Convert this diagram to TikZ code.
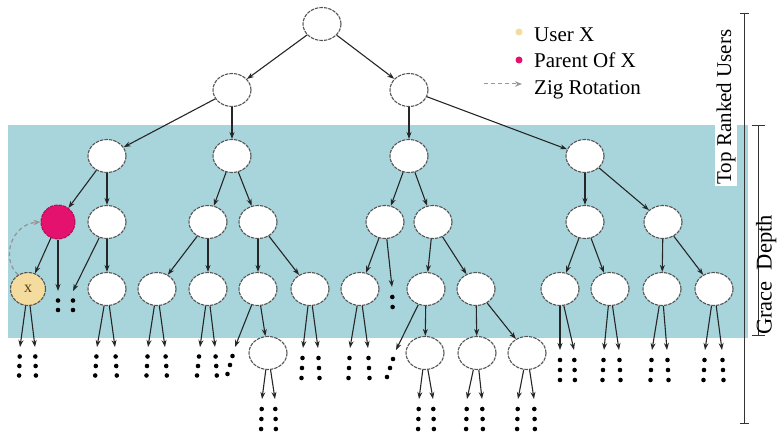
\documentclass[tikz,border=0pt]{standalone}
\usepackage{fontspec}
\setmainfont{Liberation Serif}
\usetikzlibrary{shapes.geometric,arrows.meta,calc}

\definecolor{band}{RGB}{168,213,220}
\definecolor{parentpink}{RGB}{228,18,110}
\definecolor{userbeige}{RGB}{244,220,158}
\definecolor{rimgray}{RGB}{85,85,85}
\definecolor{ziggray}{RGB}{150,150,150}
\definecolor{xbrown}{RGB}{90,60,25}

\tikzset{
  tn/.style={ellipse, draw=rimgray, dash pattern=on 3.5pt off 1pt, line width=1.1pt,
             fill=white, minimum width=38pt, minimum height=33pt, inner sep=0pt},
  pn/.style={circle, draw=parentpink!75!black, dash pattern=on 3.5pt off 1pt, line width=1pt,
             fill=parentpink, minimum size=34pt, inner sep=0pt},
  xn/.style={ellipse, draw=rimgray, dash pattern=on 3.5pt off 1pt, line width=1.1pt,
             fill=userbeige, minimum width=35pt, minimum height=33pt, inner sep=0pt,
             text=xbrown, font=\fontsize{16}{16}\selectfont},
  edge/.style={draw=black!85, line width=1.1pt, -{Stealth[length=7pt,width=5pt]}},
  zig/.style={draw=ziggray, line width=1.3pt, dash pattern=on 4pt off 3pt,
              -{Stealth[length=7pt,width=5.5pt]}},
  ldot/.style={circle, inner sep=0pt, minimum size=7pt},
  lbl/.style={font=\fontsize{21}{24}\selectfont, inner sep=0pt},
  bar/.style={draw=black!80, line width=1pt}
}

% edge from a parent to a free tip, followed by a column of dots
\newcommand\dotchain[5]{%
  \coordinate (#2) at (#3);
  \draw[edge] (#1) -- (#2);
  \foreach \k in {1,...,#5}{\fill[black] ($(#2)+\k*(#4)$) circle[radius=2.3pt];}
}

\begin{document}
\begin{tikzpicture}[x=1pt,y=-1pt]
\useasboundingbox (0,0) rectangle (777,436);

% shaded grace band
\fill[band] (8,125) rectangle (748,338);

% level 0 and 1
\node[tn] (r) at (322,24) {};
\node[tn] (a) at (232,90) {};
\node[tn] (b) at (409,90) {};
% level 2
\node[tn] (a1) at (107,156) {};
\node[tn] (a2) at (232,156) {};
\node[tn] (b1) at (409,156) {};
\node[tn] (b2) at (585,156) {};
% level 3
\node[pn] (p) at (58,222) {};
\node[tn] (a1r) at (107,222) {};
\node[tn] (a2l) at (208,222) {};
\node[tn] (a2r) at (258,222) {};
\node[tn] (b1l) at (385,222) {};
\node[tn] (b1r) at (433,222) {};
\node[tn] (b2l) at (585,222) {};
\node[tn] (b2r) at (663,222) {};
% level 4
\node[xn] (x) at (28,289) {x};
\node[tn] (n4b) at (107,289) {};
\node[tn] (n4c) at (157,289) {};
\node[tn] (n4d) at (208,289) {};
\node[tn] (n4e) at (258,289) {};
\node[tn] (n4f) at (310,289) {};
\node[tn] (n4g) at (360,289) {};
\node[tn] (n4h) at (426,289) {};
\node[tn] (n4i) at (476,289) {};
\node[tn] (n4k) at (560,289) {};
\node[tn] (n4l) at (610,289) {};
\node[tn] (n4m) at (662,289) {};
\node[tn] (n4n) at (714,289) {};
% level 5
\node[tn] (n5a) at (268,353) {};
\node[tn] (n5b) at (425,353) {};
\node[tn] (n5c) at (477,353) {};
\node[tn] (n5d) at (527,353) {};

% tree edges
\foreach \u/\v in {r/a, r/b, a/a1, a/a2, b/b1, b/b2,
                   a1/p, a1/a1r, a2/a2l, a2/a2r, b1/b1l, b1/b1r, b2/b2l, b2/b2r,
                   p/x, a1r/n4b, a2l/n4c, a2l/n4d, a2r/n4e, a2r/n4f, b1l/n4g,
                   b1r/n4h, b1r/n4i, b2l/n4k, b2l/n4l, b2r/n4m, b2r/n4n,
                   n4e/n5a, n4h/n5b, n4i/n5c, n4i/n5d}
  {\draw[edge] (\u) -- (\v);}

% unexpanded subtrees
\dotchain{p}{cp}{58,291}{0,9.5}{2}
\dotchain{a1r}{ca1r}{73,291}{0,9.5}{2}
\dotchain{b1l}{cb1l}{392,287}{0.3,10}{2}

\dotchain{x}{cx1}{20,347}{-0.3,9.5}{3}
\dotchain{x}{cx2}{35,347}{0.3,9.5}{3}
\dotchain{n4b}{cb1}{97,347}{-0.6,9.5}{3}
\dotchain{n4b}{cb2}{115,347}{0.6,9.5}{3}
\dotchain{n4c}{cc1}{148,347}{-0.5,9.5}{3}
\dotchain{n4c}{cc2}{165,347}{0.6,9.5}{3}
\dotchain{n4d}{cd1}{200,347}{-1,9.5}{3}
\dotchain{n4d}{cd2}{215,347}{0.6,9.5}{3}
\dotchain{n4e}{ce1}{235,347}{-2.5,9}{3}
\dotchain{n4f}{cf1}{303,348}{-0.5,10}{3}
\dotchain{n4f}{cf2}{318,348}{0.5,10}{3}
\dotchain{n4g}{cg1}{350,348}{-0.5,10}{3}
\dotchain{n4g}{cg2}{368,348}{0.5,10}{3}
\dotchain{n4h}{ch1}{396,350}{-3,9}{3}
\dotchain{n4k}{ck1}{560,350}{0,10}{3}
\dotchain{n4k}{ck2}{574,350}{0.3,10}{3}
\dotchain{n4l}{cl1}{604,350}{-0.5,10}{3}
\dotchain{n4l}{cl2}{619,350}{0.5,10}{3}
\dotchain{n4m}{cm1}{652,350}{-0.5,10}{3}
\dotchain{n4m}{cm2}{667,350}{0.5,10}{3}
\dotchain{n4n}{cn1}{705,350}{-0.5,10}{3}
\dotchain{n4n}{cn2}{722,350}{0.5,10}{3}

\dotchain{n5a}{c5a1}{262,399}{-0.3,10}{3}
\dotchain{n5a}{c5a2}{275,399}{0.3,10}{3}
\dotchain{n5b}{c5b1}{419,399}{-0.3,10}{3}
\dotchain{n5b}{c5b2}{433,399}{0.3,10}{3}
\dotchain{n5c}{c5c1}{467,399}{-0.3,10}{3}
\dotchain{n5c}{c5c2}{482,399}{0.3,10}{3}
\dotchain{n5d}{c5d1}{518,399}{-0.3,10}{3}
\dotchain{n5d}{c5d2}{534,399}{0.3,10}{3}

% zig rotation of x about its parent
\draw[zig] (x.125) .. controls (0,258) and (12,224) .. (p.west);

% legend
\node[ldot, fill=userbeige] (ku) at (519,32) {};
\node[ldot, fill=parentpink] (kp) at (519,60) {};
\coordinate (kz0) at (484,84);
\coordinate (kz1) at (522,84);
\draw[zig, line width=1pt] (kz0) -- (kz1);
\node[lbl, anchor=base west] (tu) at (534,42) {User X};
\node[lbl, anchor=base west] (tp) at (534,68) {Parent Of X};
\node[lbl, anchor=base west] (tz) at (534,95) {Zig Rotation};

% depth brackets
\coordinate (t0) at (744,14);
\coordinate (t1) at (744,423);
\draw[bar] (t0) -- (t1);
\draw[bar] ($(t0)+(-4.5,0)$) -- ($(t0)+(4.5,0)$);
\draw[bar] ($(t1)+(-4.5,0)$) -- ($(t1)+(4.5,0)$);
\coordinate (g0) at (758,125);
\coordinate (g1) at (758,335);
\draw[bar] (g0) -- (g1);
\draw[bar] ($(g0)+(-6.5,0)$) -- ($(g0)+(6.5,0)$);
\draw[bar] ($(g1)+(-6.5,0)$) -- ($(g1)+(6.5,0)$);

\node[lbl, rotate=90, anchor=base, fill=white, inner sep=1.5pt] (top) at (731,107) {Top Ranked Users};
\node[lbl, rotate=90, anchor=base, font=\fontsize{22.5}{24}\selectfont] (grace) at (771.5,275) {Grace\enspace Depth};
\end{tikzpicture}
\end{document}
